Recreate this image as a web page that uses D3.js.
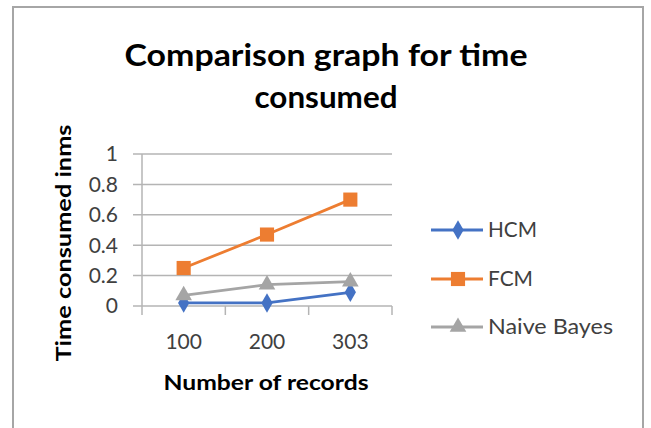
<!DOCTYPE html>
<html><head><meta charset="utf-8">
<script src="https://cdn.jsdelivr.net/npm/d3@7"></script>
<style>body{margin:0;background:#fff;}svg{display:block;}</style>
</head><body>
<script>
const categories = ["100", "200", "303"];
const hcm = [0.02, 0.02, 0.09];
const fcm = [0.25, 0.47, 0.70];
const naiveBayes = [0.07, 0.14, 0.16];
const yTicks = [0, 0.2, 0.4, 0.6, 0.8, 1];
const seriesNames = ["HCM", "FCM", "Naive Bayes"];
const colors = ["#4472C4", "#ED7D31", "#A5A5A5"];
const symbols = [d3.symbolDiamond, d3.symbolSquare, d3.symbolTriangle];

const series = seriesNames.map((n, i) => ({name: n, values: [hcm, fcm, naiveBayes][i], color: colors[i], symbol: symbols[i]}));

const W = 651, H = 428;
const svg = d3.select("body").append("svg").attr("width", W).attr("height", H);
const font = "Lato, 'Open Sans', sans-serif";

// outer border
svg.append("path").attr("d", `M13,${H+2} L13,7 L643,7 L643,${H+2}`)
  .attr("fill", "none").attr("stroke", "#a6a6a6").attr("stroke-width", 2);

const x = d3.scaleBand().domain(categories).range([142, 392]).padding(0);
const y = d3.scaleLinear().domain([0, 1]).range([306, 154]);

// gridlines
svg.append("g").selectAll("line").data(yTicks).join("line")
  .attr("x1", 133).attr("x2", 392)
  .attr("y1", d => y(d)).attr("y2", d => y(d))
  .attr("stroke", "#b4b4b4").attr("stroke-width", 1.5);

// y axis line
svg.append("line").attr("x1", 142).attr("x2", 142).attr("y1", y(1)).attr("y2", 315)
  .attr("stroke", "#b4b4b4").attr("stroke-width", 1.5);
// x tick marks at category boundaries
const bounds = categories.map(c => x(c) + x.bandwidth());
svg.append("g").selectAll("line").data(bounds).join("line")
  .attr("x1", d => d).attr("x2", d => d).attr("y1", y(0)).attr("y2", 315)
  .attr("stroke", "#b4b4b4").attr("stroke-width", 1.5);

// y tick labels
svg.append("g").selectAll("text").data(yTicks).join("text")
  .attr("x", 118).attr("y", d => y(d)).attr("dy", "0.35em")
  .attr("text-anchor", "end").attr("font-family", font).attr("font-size", 21)
  .attr("fill", "#404040").text(d => d3.format("~g")(d));

// x tick labels
svg.append("g").selectAll("text").data(categories).join("text")
  .attr("x", d => x(d) + x.bandwidth()/2).attr("y", 342).attr("dy", "0.35em")
  .attr("text-anchor", "middle").attr("font-family", font).attr("font-size", 21)
  .attr("fill", "#404040").text(d => d);

// lines
const line = d3.line().x((d, i) => x(categories[i]) + x.bandwidth()/2).y(d => y(d));
series.forEach(s => {
  svg.append("path").attr("d", line(s.values)).attr("fill", "none")
    .attr("stroke", s.color).attr("stroke-width", 2.8);
});
const symSize = {HCM: 110, FCM: 200, "Naive Bayes": 120};
series.forEach(s => {
  svg.append("g").selectAll("path").data(s.values).join("path")
    .attr("transform", (d, i) => `translate(${x(categories[i]) + x.bandwidth()/2},${y(d)})`)
    .attr("d", d3.symbol().type(s.symbol).size(symSize[s.name]))
    .attr("fill", s.color);
});

// legend
const legY = [230, 279, 327];
const legLen = [49, 45, 125];
series.forEach((s, i) => {
  const g = svg.append("g");
  g.append("line").attr("x1", 431).attr("x2", 483).attr("y1", legY[i]).attr("y2", legY[i])
    .attr("stroke", s.color).attr("stroke-width", 2.8);
  g.append("path").attr("transform", `translate(458,${legY[i]})`)
    .attr("d", d3.symbol().type(s.symbol).size(symSize[s.name])).attr("fill", s.color);
  g.append("text").attr("x", 488).attr("y", legY[i]).attr("dy", "0.35em")
    .attr("font-family", font).attr("font-size", 21).attr("fill", "#404040")
    .attr("textLength", legLen[i]).attr("lengthAdjust", "spacingAndGlyphs").text(s.name);
});

// title
svg.append("text").attr("x", 326).attr("y", 66).attr("text-anchor", "middle")
  .attr("font-family", font).attr("font-weight", "bold").attr("font-size", 31)
  .attr("textLength", 403).attr("lengthAdjust", "spacingAndGlyphs")
  .attr("fill", "#000").text("Comparison graph for time");
svg.append("text").attr("x", 326).attr("y", 108).attr("text-anchor", "middle")
  .attr("font-family", font).attr("font-weight", "bold").attr("font-size", 31)
  .attr("textLength", 143).attr("lengthAdjust", "spacingAndGlyphs")
  .attr("fill", "#000").text("consumed");

// axis titles
svg.append("text").attr("transform", "translate(64,243) rotate(-90)").attr("dy", "0.35em")
  .attr("text-anchor", "middle").attr("font-family", font).attr("font-weight", "bold")
  .attr("font-size", 21).attr("textLength", 237).attr("lengthAdjust", "spacingAndGlyphs")
  .attr("fill", "#000").text("Time consumed inms");
svg.append("text").attr("x", 266).attr("y", 383).attr("dy", "0.35em")
  .attr("text-anchor", "middle").attr("font-family", font).attr("font-weight", "bold")
  .attr("font-size", 21).attr("textLength", 205).attr("lengthAdjust", "spacingAndGlyphs")
  .attr("fill", "#000").text("Number of records");
</script>
</body></html>
